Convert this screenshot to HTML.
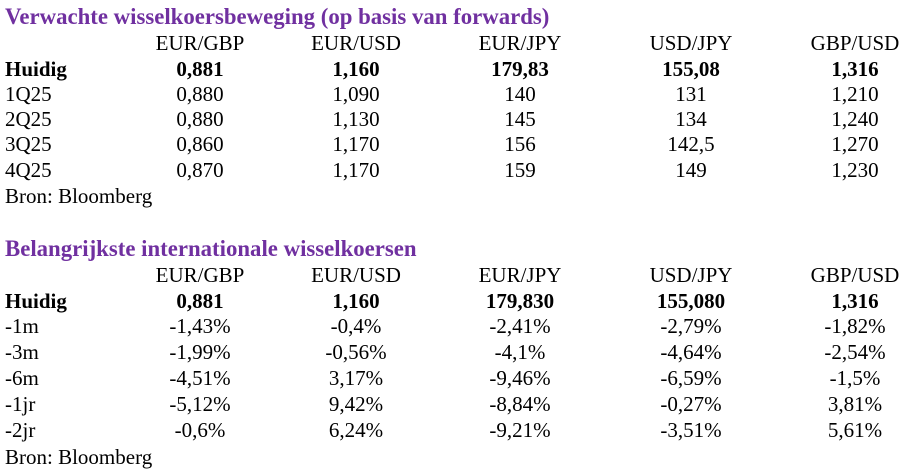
<!DOCTYPE html>
<html><head><meta charset="utf-8"><style>
body{margin:0;width:907px;height:472px;background:#fff;font-family:"Liberation Serif",serif;font-size:21px;color:#000;position:relative;overflow:hidden}
.r{position:absolute;left:0;width:907px;height:25px;line-height:25px}
.r span{position:absolute;white-space:nowrap;transform:translateX(-50%)}
.l{position:absolute;left:5px;white-space:nowrap}
.t{color:#7030A0;font-weight:bold;font-size:22.8px}
.b{font-weight:bold}
</style></head><body>
<div class="r" style="top:4px"><div class="l t">Verwachte wisselkoersbeweging (op basis van forwards)</div></div>
<div class="r" style="top:31px"><span style="left:200px">EUR/GBP</span><span style="left:356px">EUR/USD</span><span style="left:520px">EUR/JPY</span><span style="left:691px">USD/JPY</span><span style="left:855px">GBP/USD</span></div>
<div class="r b" style="top:57px"><div class="l">Huidig</div><span style="left:200px">0,881</span><span style="left:356px">1,160</span><span style="left:520px">179,83</span><span style="left:691px">155,08</span><span style="left:855px">1,316</span></div>
<div class="r" style="top:82px"><div class="l">1Q25</div><span style="left:200px">0,880</span><span style="left:356px">1,090</span><span style="left:520px">140</span><span style="left:691px">131</span><span style="left:855px">1,210</span></div>
<div class="r" style="top:107px"><div class="l">2Q25</div><span style="left:200px">0,880</span><span style="left:356px">1,130</span><span style="left:520px">145</span><span style="left:691px">134</span><span style="left:855px">1,240</span></div>
<div class="r" style="top:132px"><div class="l">3Q25</div><span style="left:200px">0,860</span><span style="left:356px">1,170</span><span style="left:520px">156</span><span style="left:691px">142,5</span><span style="left:855px">1,270</span></div>
<div class="r" style="top:158px"><div class="l">4Q25</div><span style="left:200px">0,870</span><span style="left:356px">1,170</span><span style="left:520px">159</span><span style="left:691px">149</span><span style="left:855px">1,230</span></div>
<div class="r" style="top:184px"><div class="l">Bron: Bloomberg</div></div>

<div class="r" style="top:236px"><div class="l t">Belangrijkste internationale wisselkoersen</div></div>
<div class="r" style="top:263px"><span style="left:200px">EUR/GBP</span><span style="left:356px">EUR/USD</span><span style="left:520px">EUR/JPY</span><span style="left:691px">USD/JPY</span><span style="left:855px">GBP/USD</span></div>
<div class="r b" style="top:289px"><div class="l">Huidig</div><span style="left:200px">0,881</span><span style="left:356px">1,160</span><span style="left:520px">179,830</span><span style="left:691px">155,080</span><span style="left:855px">1,316</span></div>
<div class="r" style="top:314px"><div class="l">-1m</div><span style="left:200px">-1,43%</span><span style="left:356px">-0,4%</span><span style="left:520px">-2,41%</span><span style="left:691px">-2,79%</span><span style="left:855px">-1,82%</span></div>
<div class="r" style="top:340px"><div class="l">-3m</div><span style="left:200px">-1,99%</span><span style="left:356px">-0,56%</span><span style="left:520px">-4,1%</span><span style="left:691px">-4,64%</span><span style="left:855px">-2,54%</span></div>
<div class="r" style="top:366px"><div class="l">-6m</div><span style="left:200px">-4,51%</span><span style="left:356px">3,17%</span><span style="left:520px">-9,46%</span><span style="left:691px">-6,59%</span><span style="left:855px">-1,5%</span></div>
<div class="r" style="top:392px"><div class="l">-1jr</div><span style="left:200px">-5,12%</span><span style="left:356px">9,42%</span><span style="left:520px">-8,84%</span><span style="left:691px">-0,27%</span><span style="left:855px">3,81%</span></div>
<div class="r" style="top:418px"><div class="l">-2jr</div><span style="left:200px">-0,6%</span><span style="left:356px">6,24%</span><span style="left:520px">-9,21%</span><span style="left:691px">-3,51%</span><span style="left:855px">5,61%</span></div>
<div class="r" style="top:445px"><div class="l">Bron: Bloomberg</div></div>
</body></html>
